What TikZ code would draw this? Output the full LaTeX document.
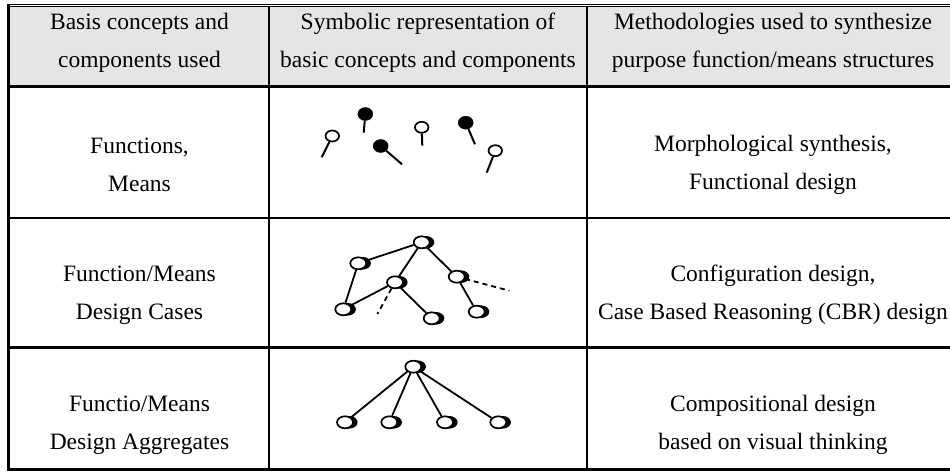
\documentclass[tikz,border=0pt]{standalone}
\usepackage{fontspec}
\setmainfont{Liberation Serif}
\usetikzlibrary{shapes.geometric,shadows,backgrounds}

\begin{document}
\begin{tikzpicture}[
    x=1pt, y=-1pt,
    cell/.style={font=\fontsize{23.5}{38}\selectfont, align=center, inner sep=0pt},
    rule/.style={line width=2.6pt},
    openpin/.style={ellipse, draw, fill=white, line width=1.7pt, minimum width=13.5pt, minimum height=11pt, inner sep=0pt},
    fullpin/.style={ellipse, draw, fill=black, minimum width=15pt, minimum height=13pt, inner sep=0pt},
    stick/.style={line width=2pt},
    case/.style={ellipse, draw, fill=white, line width=1.7pt, minimum width=16pt, minimum height=12pt, inner sep=0pt,
        general shadow={fill=black, shadow xshift=4pt, shadow scale=1.05}},
    link/.style={line width=1.8pt},
    loose/.style={link, dash pattern=on 5pt off 4pt}
]
    \useasboundingbox (0,0) rectangle (950,473);

    % Table frame
    \fill[gray!20] (10,7) rectangle (950,86);
    \draw[line width=0.8pt] (8,4.3) -- (950,4.3);
    \draw[line width=1.6pt] (8,6.4) -- (950,6.4);
    \draw[line width=3pt] (8.8,4) -- (8.8,471);
    \draw[rule] (8,86.7) -- (950,86.7);
    \draw[rule] (8,218.2) -- (950,218.2);
    \draw[rule] (8,347.3) -- (950,347.3);
    \draw[rule] (8,469.7) -- (950,469.7);
    \draw[line width=2.3pt] (268.8,6) -- (268.8,470);
    \draw[line width=2.3pt] (586.8,6) -- (586.8,470);

    % Header
    \node[cell] (h1) at (139.5,43) {Basis concepts and\\components used};
    \node[cell] (h2) at (428,43) {Symbolic representation of\\basic concepts and components};
    \node[cell] (h3) at (773,43) {Methodologies used to synthesize\\purpose function/means structures};

    % Row 1
    \node[cell] (r1a) at (139.5,165) {Functions,\\Means};
    \node[cell] (r1c) at (773,165) {Morphological synthesis,\\Functional design};

    \node[openpin] (p1) at (332.3,136) {};
    \node[fullpin] (p2) at (365.3,114) {};
    \node[fullpin] (p3) at (380.7,146) {};
    \node[openpin] (p4) at (421.7,127.3) {};
    \node[fullpin] (p5) at (465.7,122.7) {};
    \node[openpin] (p6) at (495.3,150.7) {};
    \coordinate (p1e) at (321.7,157.3);
    \coordinate (p2e) at (363.7,132.7);
    \coordinate (p3e) at (402,164.3);
    \coordinate (p4e) at (422.3,145.7);
    \coordinate (p5e) at (475,144.3);
    \coordinate (p6e) at (486.7,172.7);
    \draw[stick] (p1) -- (p1e);
    \draw[stick] (p2) -- (p2e);
    \draw[stick] (p3) -- (p3e);
    \draw[stick] (p4) -- (p4e);
    \draw[stick] (p5) -- (p5e);
    \draw[stick] (p6) -- (p6e);

    % Row 2
    \node[cell] (r2a) at (139.5,295) {Function/Means\\Design Cases};
    \node[cell] (r2c) at (773,295) {Configuration design,\\Case Based Reasoning (CBR) design};

    \node[case] (cA) at (421.7,242.3) {};
    \node[case] (cB) at (358.3,263.3) {};
    \node[case] (cC) at (395,282.3) {};
    \node[case] (cD) at (456.7,276.7) {};
    \node[case] (cE) at (343.3,309.3) {};
    \node[case] (cF) at (431.7,318.3) {};
    \node[case] (cG) at (476.7,311.7) {};
    \coordinate (cCx) at (377.3,314);
    \coordinate (cDx) at (509.3,290.7);

    % Row 3
    \node[cell] (r3a) at (139.5,425) {Functio/Means\\Design Aggregates};
    \node[cell] (r3c) at (773,425) {Compositional design\\based on visual thinking};

    \node[case] (gT) at (413.3,366.7) {};
    \node[case] (g1) at (345,422.3) {};
    \node[case] (g2) at (389.3,422.3) {};
    \node[case] (g3) at (445,422.3) {};
    \node[case] (g4) at (498.3,422.3) {};

    % Links
    \begin{scope}[on background layer]
        \draw[link] (cA) -- (cB);
        \draw[link] (cA) -- (cC);
        \draw[link] (cA) -- (cD);
        \draw[link] (cB) -- (cE);
        \draw[link] (cE) -- (cC);
        \draw[link] (cC) -- (cF);
        \draw[link] (cD) -- (cG);
        \draw[loose] (cC) -- (cCx);
        \draw[loose] (cD) -- (cDx);
        \draw[link] (gT) -- (g1);
        \draw[link] (gT) -- (g2);
        \draw[link] (gT) -- (g3);
        \draw[link] (gT) -- (g4);
    \end{scope}
\end{tikzpicture}
\end{document}
